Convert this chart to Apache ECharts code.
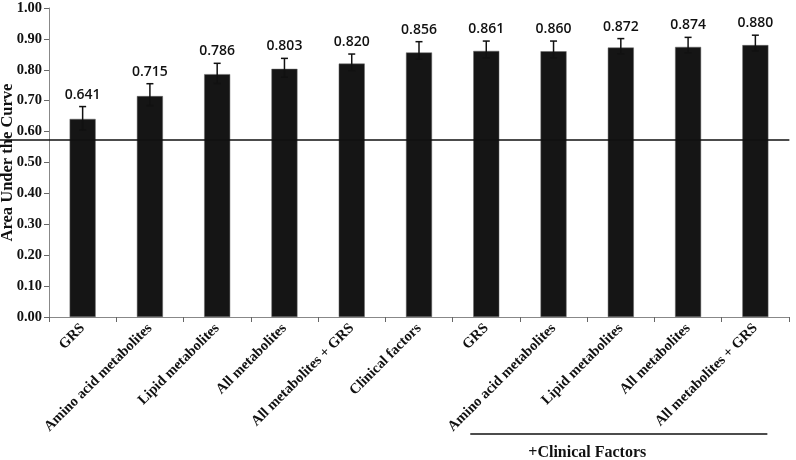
<!DOCTYPE html>
<html><head><meta charset="utf-8">
<script src="https://cdn.jsdelivr.net/npm/echarts@6/dist/echarts.min.js"></script>
<style>html,body{margin:0;padding:0;background:#fff}#c{width:796px;height:460px}</style>
</head><body><div id="c"></div>
<script>
const categories = ['GRS','Amino acid metabolites','Lipid metabolites','All metabolites','All metabolites + GRS','Clinical factors','GRS','Amino acid metabolites','Lipid metabolites','All metabolites','All metabolites + GRS'];
const aucValues = [0.641,0.715,0.786,0.803,0.820,0.856,0.861,0.860,0.872,0.874,0.880];
const errLower = [0.605,0.684,0.756,0.776,0.797,0.835,0.839,0.839,0.852,0.855,0.861];
const errUpper = [0.681,0.755,0.821,0.837,0.851,0.891,0.893,0.893,0.901,0.905,0.912];
const yTicks = [0,0.1,0.2,0.3,0.4,0.5,0.6,0.7,0.8,0.9,1.0];
const refValue = 0.573;
const groupLabel = '+Clinical Factors';
const groupStart = 6, groupEnd = 10;

const serif = '"Liberation Serif","DejaVu Serif",serif';
const chart = echarts.init(document.getElementById('c'), null, {renderer:'canvas'});
const errData = categories.map((c,i)=>[i, errLower[i], errUpper[i], aucValues[i]]);
chart.setOption({
  animation:false,
  grid:{left:49,right:7,top:8,bottom:143,containLabel:false,outerBoundsMode:'none'},
  xAxis:{type:'category',data:categories,
    axisLine:{lineStyle:{color:'#888',width:1}},
    axisTick:{show:true,alignWithLabel:false,length:5,lineStyle:{color:'#666'}},
    axisLabel:{interval:0,rotate:45,margin:9,color:'#111',fontFamily:serif,fontWeight:'bold',fontSize:14.5}
  },
  yAxis:{type:'value',min:yTicks[0],max:yTicks[yTicks.length-1],interval:0.1,
    name:'Area Under the Curve',nameLocation:'middle',nameGap:33,nameMoveOverlap:false,
    nameTextStyle:{fontFamily:serif,fontWeight:'bold',fontSize:16.5,color:'#111'},
    axisLine:{show:true,lineStyle:{color:'#888'}},
    axisTick:{show:true,length:5,lineStyle:{color:'#666'}},
    splitLine:{show:false},
    axisLabel:{formatter:v=>v.toFixed(2),fontFamily:serif,fontWeight:'bold',fontSize:14.5,color:'#111',margin:7}
  },
  series:[
    {type:'bar',data:aucValues,barWidth:26,itemStyle:{color:'#151515',borderColor:'#666',borderWidth:0.5}},
    {type:'custom',data:errData,z:5,
      renderItem:function(params,api){
        const x=api.value(0);
        const lo=api.coord([x,api.value(1)]);
        const hi=api.coord([x,api.value(2)]);
        const cap=3.5;
        const st={stroke:'#111',lineWidth:1.5};
        return {type:'group',children:[
          {type:'line',shape:{x1:hi[0],y1:hi[1],x2:lo[0],y2:lo[1]},style:st},
          {type:'line',shape:{x1:hi[0]-cap,y1:hi[1],x2:hi[0]+cap,y2:hi[1]},style:st},
          {type:'line',shape:{x1:lo[0]-cap,y1:lo[1],x2:lo[0]+cap,y2:lo[1]},style:st},
          {type:'text',style:{text:api.value(3).toFixed(3),x:hi[0],y:hi[1]-5,align:'center',verticalAlign:'bottom',
            fill:'#111',font:'600 14px "Open Sans", sans-serif'}}
        ]};
      }
    }
  ]
});

function drawExtras(){
  const yRef = chart.convertToPixel({yAxisIndex:0}, refValue);
  const xEnd = chart.convertToPixel({xAxisIndex:0}, categories.length-1) + 34;
  const xg0 = chart.convertToPixel({xAxisIndex:0}, groupStart) - 16;
  const xg1 = chart.convertToPixel({xAxisIndex:0}, groupEnd) + 12;
  chart.setOption({graphic:[
    {type:'line',z:10,shape:{x1:0,y1:yRef,x2:xEnd,y2:yRef},style:{stroke:'#111',lineWidth:1.5}},
    {type:'line',shape:{x1:xg0,y1:434,x2:xg1,y2:434},style:{stroke:'#111',lineWidth:1.5}},
    {type:'text',style:{text:groupLabel,x:xg0+117,y:453,align:'center',verticalAlign:'middle',
      font:'bold 16px '+serif,fill:'#111'}}
  ]});
}
drawExtras();
</script></body></html>
